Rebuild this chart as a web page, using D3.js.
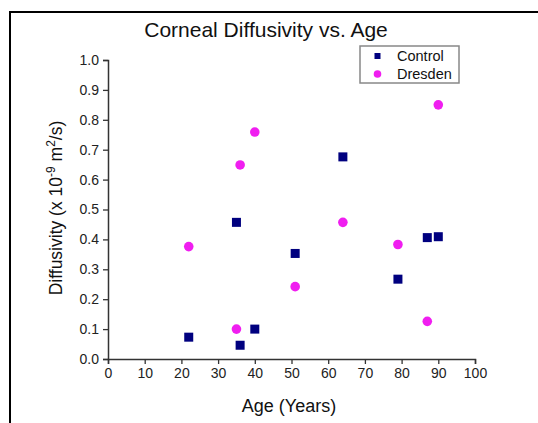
<!DOCTYPE html>
<html><head><meta charset="utf-8">
<script src="https://cdn.jsdelivr.net/npm/d3@7"></script>
<style>html,body{margin:0;padding:0;background:#fff;} svg{display:block;font-family:"Liberation Sans",Arial,sans-serif;}</style>
</head><body>
<script>
const ages = [22, 35, 36, 40, 51, 64, 79, 87, 90];
const control = [0.073, 0.457, 0.046, 0.100, 0.353, 0.676, 0.267, 0.406, 0.409];
const dresden = [0.376, 0.100, 0.649, 0.759, 0.242, 0.457, 0.383, 0.126, 0.850];
const xTicks = [0,10,20,30,40,50,60,70,80,90,100];
const yTicks = [0,0.1,0.2,0.3,0.4,0.5,0.6,0.7,0.8,0.9,1.0];
const seriesNames = ["Control", "Dresden"];

const W = 538, H = 423;
const svg = d3.select("body").append("svg").attr("width", W).attr("height", H);

// outer frame lines (top, left)
svg.append("line").attr("x1",9).attr("x2",W).attr("y1",12).attr("y2",12).attr("stroke","#000").attr("stroke-width",2);
svg.append("line").attr("x1",10).attr("x2",10).attr("y1",11).attr("y2",H).attr("stroke","#000").attr("stroke-width",2);

const x = d3.scaleLinear().domain([0,100]).range([108,475]);
const y = d3.scaleLinear().domain([0,1]).range([359,60]);

const axisColor = "#333";
const tickFont = 14;
// x axis
const gx = svg.append("g").attr("transform",`translate(0,${y(0)})`);
gx.call(d3.axisBottom(x).tickValues(d3.range(5,100,10)).tickSize(3).tickFormat(""));
gx.call(d3.axisBottom(x).tickValues(xTicks).tickSize(5).tickPadding(4).tickFormat(d3.format("d")));
gx.selectAll(".domain").attr("stroke",axisColor).attr("stroke-width",1.5);
gx.selectAll("line").attr("stroke",axisColor).attr("stroke-width",1.3);
gx.selectAll("text").attr("font-size",tickFont).attr("fill","#222").attr("font-family","Liberation Sans, Arial, sans-serif");

// y axis
const gy = svg.append("g").attr("transform",`translate(${x(0)},0)`);
gy.call(d3.axisLeft(y).tickValues(d3.range(0.05,1,0.1)).tickSize(3).tickFormat(""));
gy.call(d3.axisLeft(y).tickValues(yTicks).tickSize(5).tickPadding(4).tickFormat(d3.format(".1f")));
gy.selectAll(".domain").attr("stroke",axisColor).attr("stroke-width",1.5);
gy.selectAll("line").attr("stroke",axisColor).attr("stroke-width",1.3);
gy.selectAll("text").attr("font-size",tickFont).attr("fill","#222").attr("font-family","Liberation Sans, Arial, sans-serif");

// title
svg.append("text").attr("x",266).attr("y",37).attr("text-anchor","middle")
  .attr("font-size",21).attr("fill","#111").text("Corneal Diffusivity vs. Age");

// x label
svg.append("text").attr("x",289).attr("y",412).attr("text-anchor","middle")
  .attr("font-size",18).attr("fill","#111").text("Age (Years)");

// y label
const yl = svg.append("text").attr("transform","translate(62,208) rotate(-90)").attr("text-anchor","middle")
  .attr("font-size",17.5).attr("fill","#111");
yl.append("tspan").text("Diffusivity (x 10");
yl.append("tspan").attr("dy",-7).attr("font-size",12).text("-9");
yl.append("tspan").attr("dy",7).text(" m");
yl.append("tspan").attr("dy",-7).attr("font-size",12).text("2");
yl.append("tspan").attr("dy",7).text("/s)");

const navy = "#00007f", magenta = "#f01ef0";
const s = 9;
// control squares
svg.append("g").selectAll("rect").data(ages.map((a,i)=>[a,control[i]])).join("rect")
  .attr("x",d=>x(d[0])-s/2).attr("y",d=>y(d[1])-s/2).attr("width",s).attr("height",s).attr("fill",navy);
// dresden circles
svg.append("g").selectAll("circle").data(ages.map((a,i)=>[a,dresden[i]])).join("circle")
  .attr("cx",d=>x(d[0])).attr("cy",d=>y(d[1])).attr("r",4.8).attr("fill",magenta);

// legend
const lg = svg.append("g");
lg.append("rect").attr("x",360).attr("y",46).attr("width",99).attr("height",37)
  .attr("fill","#fff").attr("stroke","#888").attr("stroke-width",1.5);
lg.append("rect").attr("x",374.5).attr("y",53).attr("width",6).attr("height",6).attr("fill",navy);
lg.append("circle").attr("cx",377.5).attr("cy",74).attr("r",3.8).attr("fill",magenta);
lg.selectAll("text.lt").data(seriesNames).join("text").attr("class","lt")
  .attr("x",397).attr("y",(d,i)=>61+i*18).attr("font-size",14.5).attr("fill","#111").text(d=>d);
</script>
</body></html>
